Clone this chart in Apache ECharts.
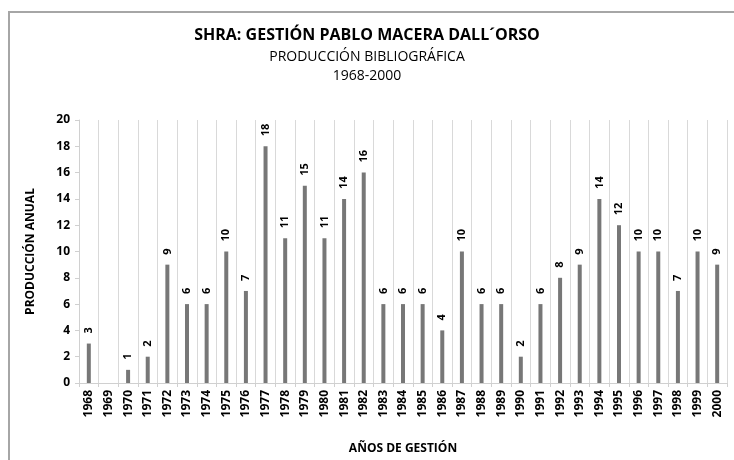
<!DOCTYPE html>
<html>
<head>
<meta charset="utf-8">
<script src="https://cdn.jsdelivr.net/npm/echarts@6/dist/echarts.min.js"></script>
<style>
html,body{margin:0;padding:0;background:#fff;}
#main{width:734px;height:460px;}
</style>
</head>
<body>
<div id="main"></div>
<script>
// produccion bibliografica por año
var years = ['1968','1969','1970','1971','1972','1973','1974','1975','1976','1977','1978',
	'1979','1980','1981','1982','1983','1984','1985','1986','1987','1988','1989',
	'1990','1991','1992','1993','1994','1995','1996','1997','1998','1999','2000'];
var produccion = [3,0,1,2,9,6,6,10,7,18,11,15,11,14,16,6,6,6,4,10,6,6,2,6,8,9,14,12,10,10,7,10,9];
var yTicks = {min: 0, max: 20, interval: 2};

var chart = echarts.init(document.getElementById('main'));
var fuente = '"Open Sans", "Noto Sans", sans-serif';
var option = {
	backgroundColor: '#fff',
	animation: false,
	graphic: [{
		type: 'rect',
		shape: {x: 9, y: 12, width: 760, height: 480},
		style: {fill: 'none', stroke: '#a6a6a6', lineWidth: 2},
		silent: true
	}],
	title: [{
		text: 'SHRA: GESTIÓN PABLO MACERA DALL´ORSO',
		left: 'center', top: 22,
		textStyle: {fontFamily: fuente, fontSize: 16, fontWeight: 'bold', color: '#000'}
	}, {
		text: 'PRODUCCIÓN BIBLIOGRÁFICA',
		left: 'center', top: 45,
		textStyle: {fontFamily: fuente, fontSize: 14, fontWeight: 'normal', color: '#000'}
	}, {
		text: '1968-2000',
		left: 'center', top: 64,
		textStyle: {fontFamily: fuente, fontSize: 14, fontWeight: 'normal', color: '#000'}
	}],
	grid: {left: 79, right: 7, top: 120, bottom: 76},
	xAxis: {
		type: 'category',
		data: years,
		name: 'AÑOS DE GESTIÓN',
		nameLocation: 'middle',
		nameGap: 60,
		nameTextStyle: {fontFamily: fuente, fontSize: 12, fontWeight: 'bold', color: '#000'},
		axisLine: {lineStyle: {color: '#d0d0d0'}},
		axisTick: {show: true, length: 4, lineStyle: {color: '#d0d0d0'}},
		splitLine: {show: true, lineStyle: {color: '#d9d9d9', width: 1}},
		axisLabel: {
			interval: 0, rotate: 90,
			fontFamily: fuente, fontSize: 12, fontWeight: 'bold', color: '#000', margin: 7
		}
	},
	yAxis: {
		type: 'value',
		min: yTicks.min, max: yTicks.max, interval: yTicks.interval,
		name: 'PRODUCCIÓN ANUAL',
		nameLocation: 'middle',
		nameGap: 42,
		nameTextStyle: {fontFamily: fuente, fontSize: 12, fontWeight: 'bold', color: '#000'},
		axisLine: {show: true, lineStyle: {color: '#d0d0d0'}},
		axisTick: {show: true, length: 4, lineStyle: {color: '#d0d0d0'}},
		splitLine: {show: false},
		axisLabel: {fontFamily: fuente, fontSize: 12, fontWeight: 'bold', color: '#000', margin: 9}
	},
	series: [{
		name: 'Producción anual',
		type: 'bar',
		barWidth: 4,
		itemStyle: {color: '#777777'},
		label: {
			show: true,
			position: 'top',
			rotate: 90,
			align: 'left',
			verticalAlign: 'middle',
			distance: 10,
			fontFamily: fuente, fontSize: 11, fontWeight: 'bold', color: '#000',
			formatter: function (p) {
				return p.value > 0 ? p.value : '';
			}
		},
		data: produccion
	}]
};
chart.setOption(option);
</script>
</body>
</html>
